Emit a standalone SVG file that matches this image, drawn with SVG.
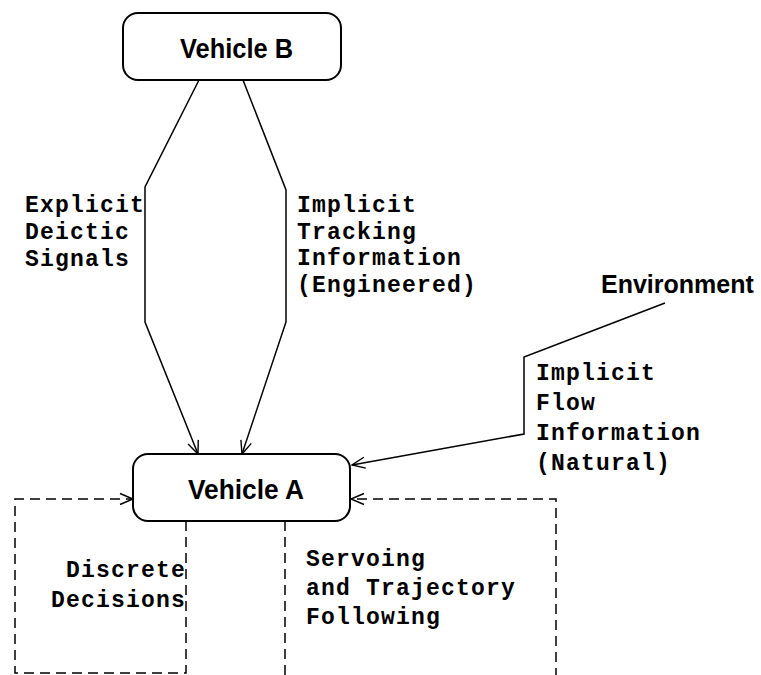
<svg xmlns="http://www.w3.org/2000/svg" width="761" height="675" viewBox="0 0 761 675">
<style>
.box{fill:#fff;stroke:#000;stroke-width:2}
.title{font-family:"Liberation Sans",Arial,sans-serif;font-weight:bold;font-size:27px;fill:#000}
.mono{font-family:"Liberation Mono","Courier New",monospace;font-weight:bold;font-size:23px;letter-spacing:1.2px;fill:#000}
.line{fill:none;stroke:#000;stroke-width:1.5}
.dash{fill:none;stroke:#000;stroke-width:1.5;stroke-dasharray:10 6}
</style>
<defs>
<marker id="arr" markerUnits="userSpaceOnUse" markerWidth="16" markerHeight="14" refX="14" refY="7" orient="auto">
<path d="M1,1.5 L14,7 L1,12.5" fill="none" stroke="#000" stroke-width="1.4"/>
</marker>
</defs>
<g id="connectors">
<polyline class="line" points="199,80 145,187 145,322 198,454" marker-end="url(#arr)"/>
<polyline class="line" points="243,80 286,190 286,322 242,454" marker-end="url(#arr)"/>
<polyline class="line" points="665,303 524,357 524,434 352,465" marker-end="url(#arr)"/>
<polyline class="dash" points="186,521 186,673 15,673 15,499 133,499" marker-end="url(#arr)"/>
<polyline class="dash" points="285,521 285,680 556,680 556,499 351,499" marker-end="url(#arr)"/>
</g>
<g id="vehicleB">
<rect class="box" x="123" y="13" width="218" height="67" rx="15"/>
<text class="title" x="180" y="58" textLength="113" lengthAdjust="spacingAndGlyphs">Vehicle B</text>
</g>
<g id="vehicleA">
<rect class="box" x="133" y="454" width="217" height="67" rx="15"/>
<text class="title" x="188" y="499" textLength="116" lengthAdjust="spacingAndGlyphs">Vehicle A</text>
</g>
<g id="environment">
<text class="title" x="601" y="293" style="font-size:25px">Environment</text>
</g>
<g id="labels">
<text class="mono" x="25" y="212">Explicit</text>
<text class="mono" x="25" y="239">Deictic</text>
<text class="mono" x="25" y="266">Signals</text>
<text class="mono" x="297" y="212">Implicit</text>
<text class="mono" x="297" y="239">Tracking</text>
<text class="mono" x="297" y="265">Information</text>
<text class="mono" x="297" y="292">(Engineered)</text>
<text class="mono" x="536" y="380">Implicit</text>
<text class="mono" x="536" y="410">Flow</text>
<text class="mono" x="536" y="440">Information</text>
<text class="mono" x="536" y="470">(Natural)</text>
<text class="mono" x="186" y="577" text-anchor="end">Discrete</text>
<text class="mono" x="186" y="607" text-anchor="end">Decisions</text>
<text class="mono" x="306" y="566">Servoing</text>
<text class="mono" x="306" y="595">and Trajectory</text>
<text class="mono" x="306" y="624">Following</text>
</g>
</svg>
